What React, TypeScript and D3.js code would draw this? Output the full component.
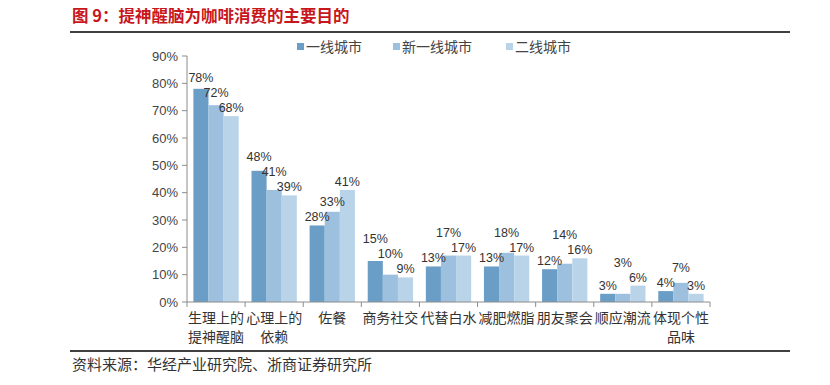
import React from "react";
import * as d3 from "d3";

const categories: string[][] = [
  ["生理上的", "提神醒脑"],
  ["心理上的", "依赖"],
  ["佐餐"],
  ["商务社交"],
  ["代替白水"],
  ["减肥燃脂"],
  ["朋友聚会"],
  ["顺应潮流"],
  ["体现个性", "品味"],
];
const seriesNames = ["一线城市", "新一线城市", "二线城市"];
const tier1 = [78, 48, 28, 15, 13, 13, 12, 3, 4];
const newTier1 = [72, 41, 33, 10, 17, 18, 14, 3, 7];
const tier2 = [68, 39, 41, 9, 17, 17, 16, 6, 3];
const yTicks = [0, 10, 20, 30, 40, 50, 60, 70, 80, 90];
const colors = ["#6a9ec6", "#9cc0de", "#b9d4e9"];

const FONT = "'Noto Sans CJK SC', 'Noto Sans', sans-serif";
const NUMFONT = "'Liberation Sans', Arial, sans-serif";

export default function App() {
  const W = 830, H = 385;
  const x0 = 187, x1 = 710, yTop = 56, yBot = 302;
  const series = [tier1, newTier1, tier2];
  const x = d3.scaleBand<number>().domain(categories.map((_, i) => i)).range([x0, x1]).paddingInner(0.22).paddingOuter(0.11);
  const xs = d3.scaleBand<number>().domain([0, 1, 2]).range([0, x.bandwidth()]);
  const y = d3.scaleLinear().domain([0, 90]).range([yBot, yTop]);
  const step = (x1 - x0) / categories.length;
  const axisColor = "#8c8c8c";
  const LH = 15;

  // label baselines: normal = bar top - 4; stagger labels upward when they collide
  const labelY = categories.map((_, ci) => {
    let [l, m, r] = series.map((s) => y(s[ci]) - 4);
    if (Math.abs(m - r) < LH) m = Math.min(m, r - LH);
    if (Math.abs(m - l) < LH) {
      if (series[0][ci] > series[1][ci]) l = Math.min(l, m - LH);
      else m = Math.min(m, l - LH);
    }
    return [l, m, r];
  });

  return (
    <div style={{ margin: -8 }}>
      <svg width={W} height={H} style={{ display: "block", background: "#fff" }}>
        <text x={72} y={22} fill="#c8161d" fontSize={16.5} fontWeight="bold" fontFamily={FONT}>图 9：提神醒脑为咖啡消费的主要目的</text>
        <line x1={70} x2={790} y1={32} y2={32} stroke="#000" strokeWidth={1.5} />

        {/* legend */}
        {seriesNames.map((n, i) => {
          const lx = [297, 393, 506][i];
          return (
            <g key={n}>
              <rect x={lx} y={43} width={7} height={7} fill={colors[i]} />
              <text x={lx + 9} y={52} fontSize={14} fill="#444" fontFamily={FONT}>{n}</text>
            </g>
          );
        })}

        {/* y axis */}
        <line x1={x0} x2={x0} y1={yTop} y2={yBot} stroke={axisColor} />
        {yTicks.map((t) => (
          <g key={t}>
            <line x1={x0 - 5} x2={x0} y1={y(t)} y2={y(t)} stroke={axisColor} />
            <text x={x0 - 9} y={y(t) + 4.5} textAnchor="end" fontSize={13} fill="#444" fontFamily={NUMFONT}>{t}%</text>
          </g>
        ))}

        {/* bars */}
        {categories.map((_, ci) =>
          series.map((s, si) => (
            <rect key={`${ci}-${si}`} x={(x(ci) as number) + (xs(si) as number)} y={y(s[ci])} width={xs.bandwidth()} height={yBot - y(s[ci])} fill={colors[si]} />
          ))
        )}

        {/* x axis */}
        <line x1={x0} x2={x1} y1={yBot} y2={yBot} stroke={axisColor} />
        {d3.range(categories.length + 1).map((i) => (
          <line key={i} x1={x0 + i * step} x2={x0 + i * step} y1={yBot} y2={yBot + 5} stroke={axisColor} />
        ))}

        {/* data labels */}
        {categories.map((_, ci) =>
          series.map((s, si) => (
            <text key={`l${ci}-${si}`} x={(x(ci) as number) + (xs(si) as number) + xs.bandwidth() / 2} y={labelY[ci][si]} textAnchor="middle" fontSize={12.5} fill="#333" fontFamily={NUMFONT}>{s[ci]}%</text>
          ))
        )}

        {/* category labels */}
        {categories.map((lines, ci) =>
          lines.map((l, li) => (
            <text key={`c${ci}-${li}`} x={x0 + (ci + 0.5) * step} y={323 + li * 19} textAnchor="middle" fontSize={14} fill="#333" fontFamily={FONT}>{l}</text>
          ))
        )}

        <line x1={70} x2={790} y1={351} y2={351} stroke="#000" strokeWidth={1.5} />
        <text x={72} y={370} fontSize={15} fill="#333" fontFamily={FONT}>资料来源：华经产业研究院、浙商证券研究所</text>
      </svg>
    </div>
  );
}
